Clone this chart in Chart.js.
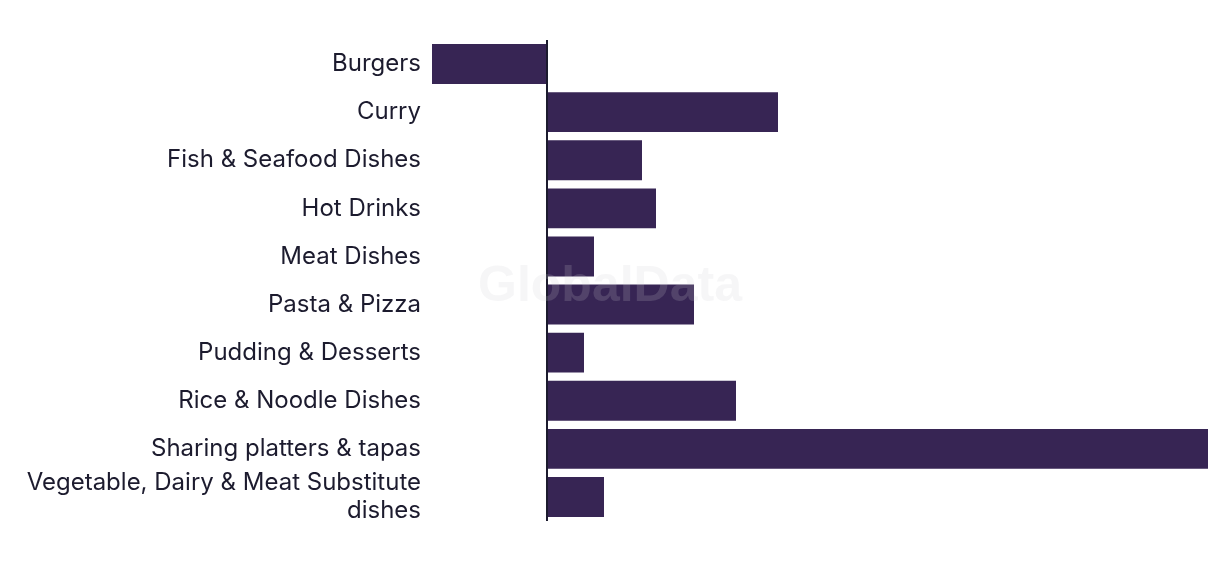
<!DOCTYPE html>
<html>
<head>
<meta charset="utf-8">
<script src="https://cdn.jsdelivr.net/npm/chart.js@4/dist/chart.umd.min.js"></script>
<style>
  html, body { margin: 0; padding: 0; background: #ffffff; }
  #wrap { width: 1220px; height: 574px; position: relative; }
</style>
</head>
<body>
<div id="wrap"><canvas id="chart"></canvas></div>
<script>
const categories = [
  'Burgers',
  'Curry',
  'Fish & Seafood Dishes',
  'Hot Drinks',
  'Meat Dishes',
  'Pasta & Pizza',
  'Pudding & Desserts',
  'Rice & Noodle Dishes',
  'Sharing platters & tapas',
  ['Vegetable, Dairy & Meat Substitute', 'dishes'],
];
const values = [-11.5, 23.1, 9.5, 10.9, 4.7, 14.7, 3.7, 18.9, 66.1, 5.7];

const barColor = '#372554';
const textColor = '#1c1b2e';

const watermark = {
  id: 'watermark',
  afterDatasetsDraw(chart) {
    const { ctx, width, height } = chart;
    ctx.save();
    ctx.font = 'bold 50px "Liberation Sans", Arial, sans-serif';
    ctx.fillStyle = 'rgba(205, 205, 210, 0.18)';
    ctx.textAlign = 'center';
    ctx.textBaseline = 'middle';
    ctx.fillText('GlobalData', width / 2, height / 2);
    ctx.restore();
  },
};

new Chart(document.getElementById('chart'), {
  type: 'bar',
  data: {
    labels: categories,
    datasets: [{
      data: values,
      backgroundColor: barColor,
      borderWidth: 0,
      barPercentage: 0.83,
      categoryPercentage: 1,
    }],
  },
  options: {
    indexAxis: 'y',
    responsive: true,
    maintainAspectRatio: false,
    animation: false,
    layout: { padding: { top: 40, right: 12, bottom: 53, left: 0 } },
    plugins: {
      legend: { display: false },
      tooltip: { enabled: false },
    },
    scales: {
      x: {
        min: Math.min(...values),
        max: Math.max(...values),
        ticks: { display: false },
        border: { display: false },
        grid: {
          drawTicks: false,
          color: (c) => (c.tick && c.tick.value === 0 ? textColor : 'transparent'),
          lineWidth: 2,
        },
        afterBuildTicks(scale) {
          scale.ticks = [{ value: 0 }];
        },
      },
      y: {
        border: { display: false },
        grid: { display: false, drawTicks: false },
        ticks: {
          color: textColor,
          padding: 11,
          autoSkip: false,
          font: { family: 'Inter, sans-serif', size: 24, lineHeight: 1.17 },
        },
        afterFit(scale) {
          scale.width = 432;
        },
      },
    },
  },
  plugins: [watermark],
});
</script>
</body>
</html>
